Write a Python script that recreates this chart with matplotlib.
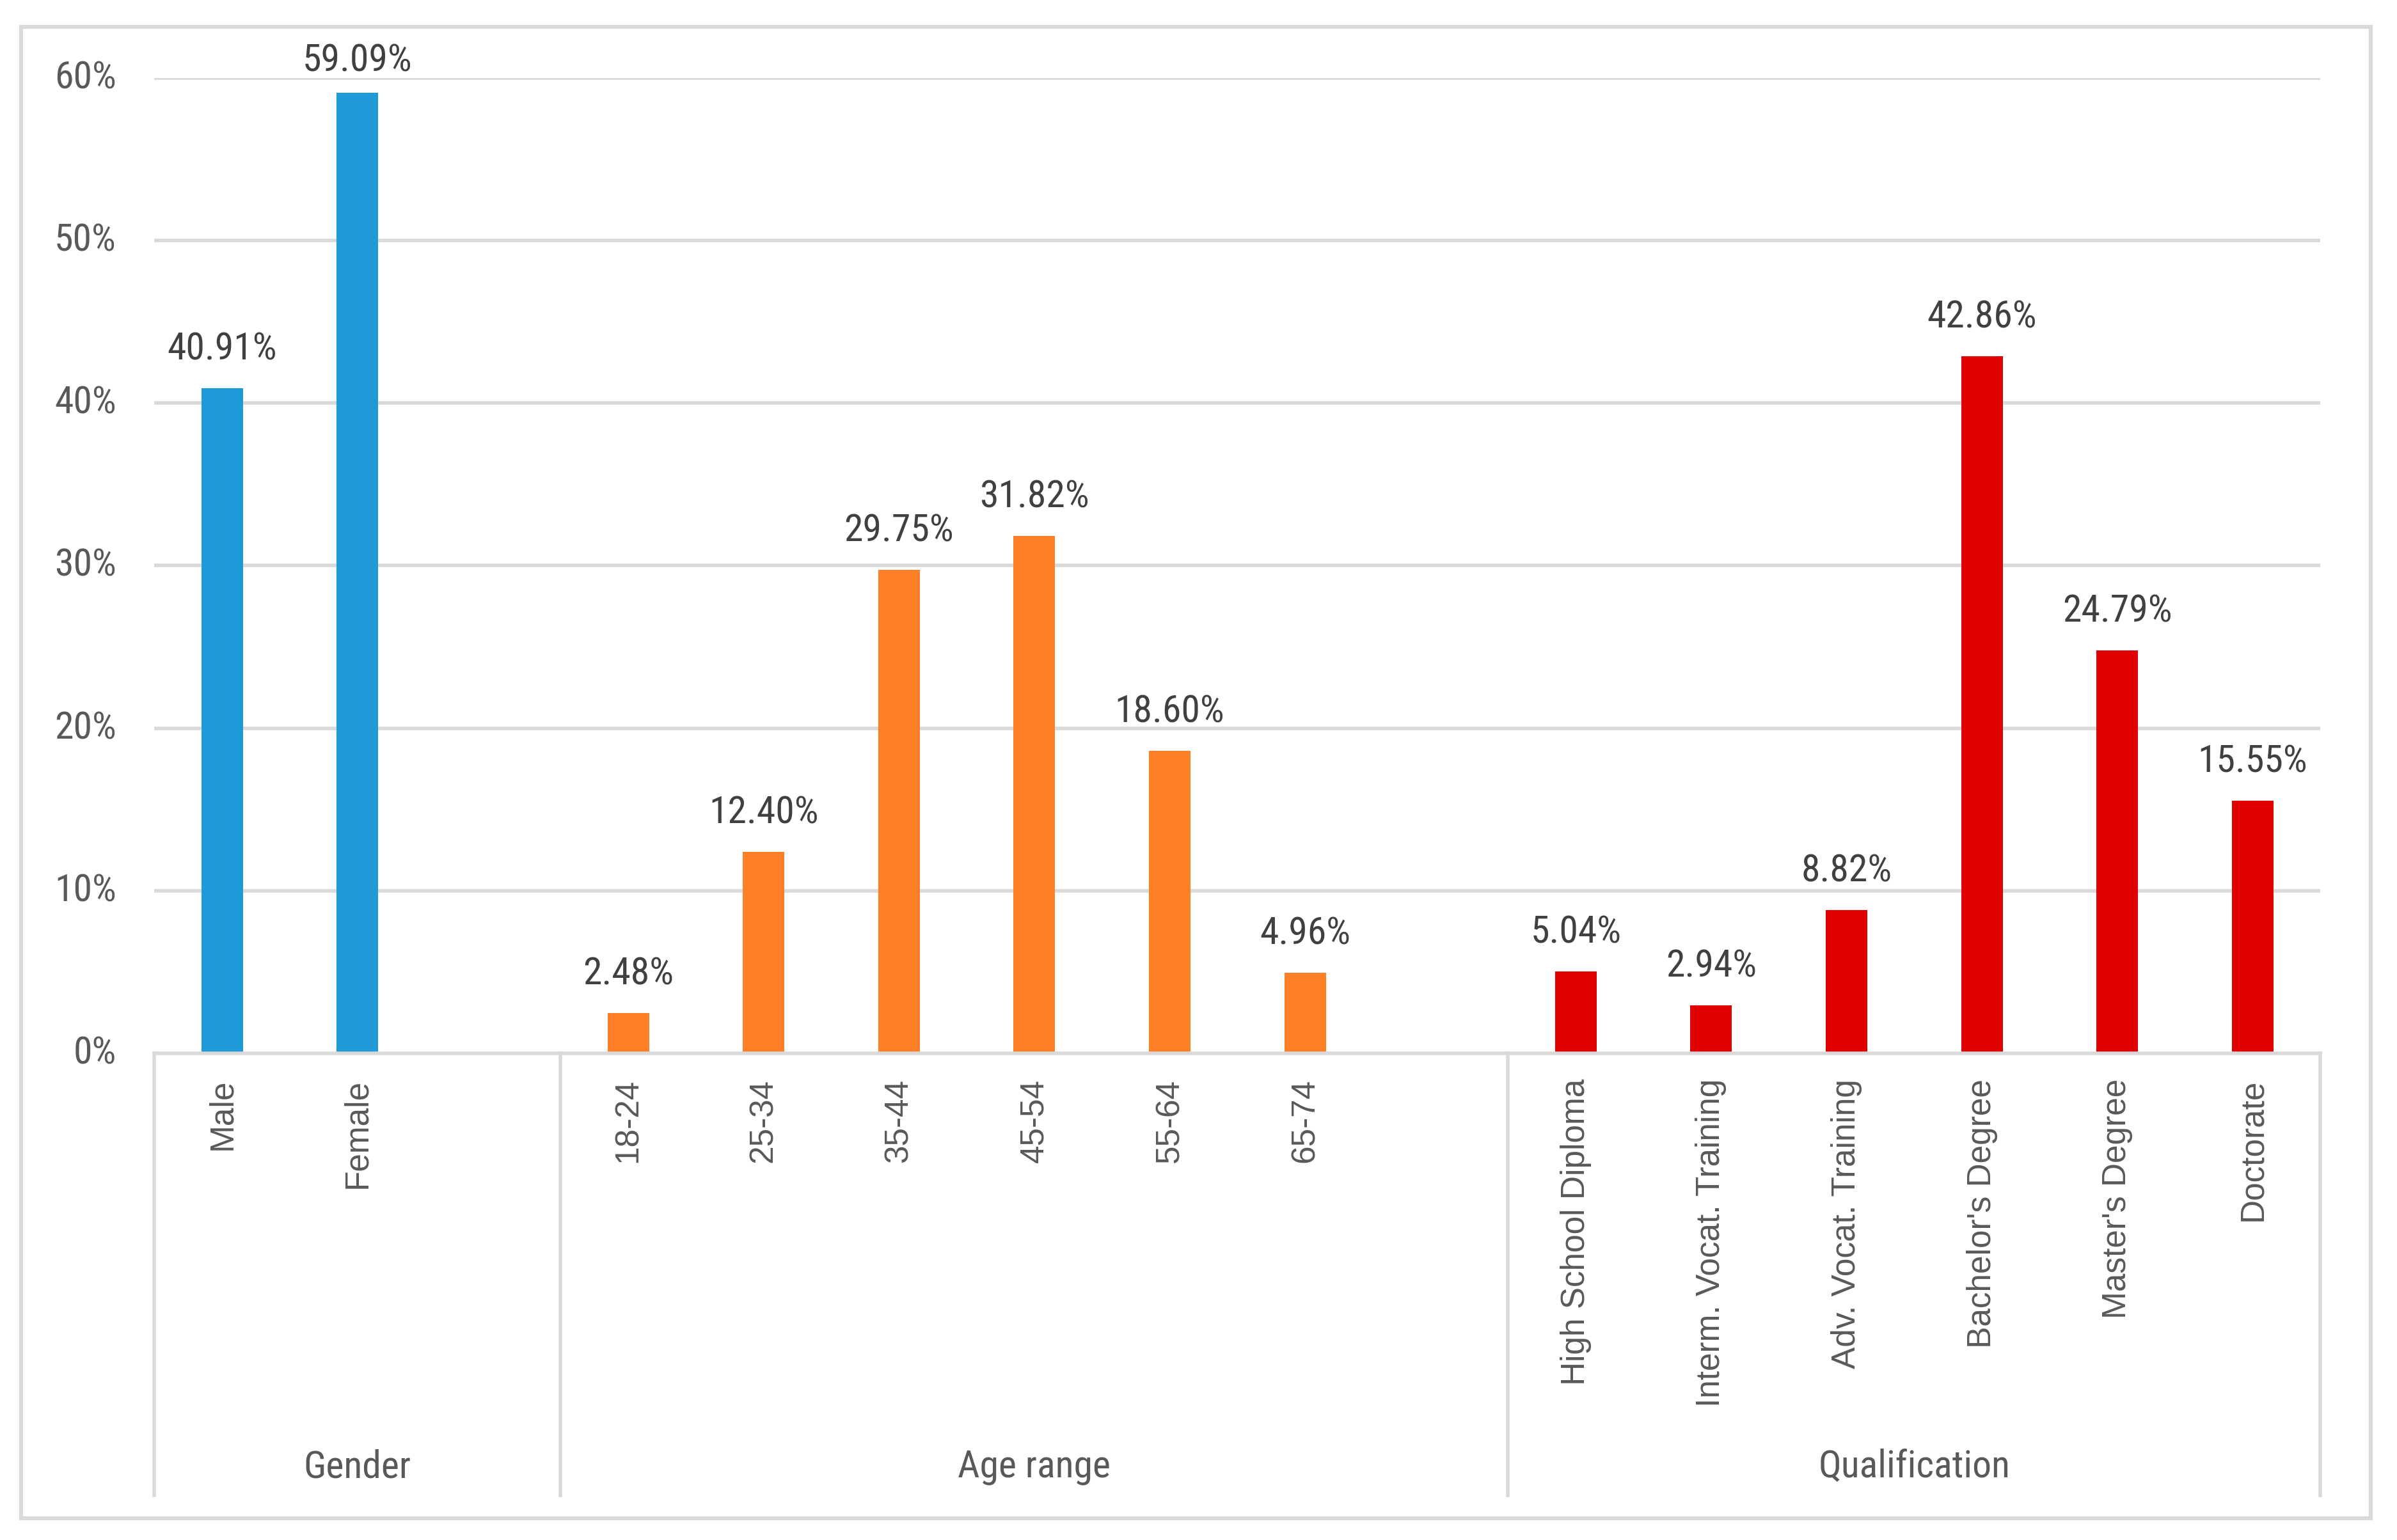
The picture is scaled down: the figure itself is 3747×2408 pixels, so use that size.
import matplotlib.pyplot as plt
from matplotlib.patches import Rectangle
import matplotlib.transforms as mtransforms
from matplotlib import font_manager

# data
gender_labels = ['Male', 'Female']
gender_values = [40.91, 59.09]
age_labels = ['18-24', '25-34', '35-44', '45-54', '55-64', '65-74']
age_values = [2.48, 12.40, 29.75, 31.82, 18.60, 4.96]
qual_labels = ['High School Diploma', 'Interm. Vocat. Training', 'Adv. Vocat. Training',
               "Bachelor's Degree", "Master's Degree", 'Doctorate']
qual_values = [5.04, 2.94, 8.82, 42.86, 24.79, 15.55]
group_names = ['Gender', 'Age range', 'Qualification']
y_ticks = [0, 10, 20, 30, 40, 50, 60]

colors = ['#1E9BD7', '#FF7F27', '#E00000']
regular = ['Liberation Sans', 'DejaVu Sans']
grey = '#D9D9D9'

# a condensed face if one is installed, else plain Arial-like at a smaller size
installed = {f.name for f in font_manager.fontManager.ttflist}
narrow = [n for n in ['Liberation Sans Narrow', 'Roboto Condensed'] if n in installed]
if narrow:
    narrow_size = 21.5
    narrow = narrow + regular
else:
    narrow = regular
    narrow_size = 19.5


def main():
    fig = plt.figure(figsize=(18.735, 12.04), dpi=200)
    ax = fig.add_axes([0.06445, 0.316, 0.90355, 0.6335])

    # each group followed by one blank slot (except last)
    groups = [(gender_labels, gender_values, 1), (age_labels, age_values, 1), (qual_labels, qual_values, 0)]
    trans = mtransforms.blended_transform_factory(ax.transData, ax.transAxes)
    pos = 0
    bounds = [-0.5]
    centers = []
    for (labels, values, gap), col in zip(groups, colors):
        xs = list(range(pos, pos + len(labels)))
        ax.bar(xs, values, width=0.307, color=col, zorder=3)
        for x, v in zip(xs, values):
            off = 16 if v < 55 else 12
            ax.annotate(f'{v:.2f}%', (x, v), xytext=(0, off), textcoords='offset points',
                        ha='center', va='baseline', fontsize=narrow_size, family=narrow, color='#404040')
        for x, lab in zip(xs, labels):
            ax.text(x, -0.0262, lab, transform=trans, rotation=90, ha='center', va='top',
                    fontsize=18.5, family=regular, color='#595959')
        pos += len(labels) + gap
        bounds.append(pos - 0.5)
        centers.append((bounds[-2] + bounds[-1]) / 2)

    ax.set_xlim(-0.5, pos - 0.5)
    ax.set_ylim(0, 60)

    for t in y_ticks[1:]:
        ax.axhline(t, color=grey, lw=2.0, zorder=1)
    ax.axhline(0, color=grey, lw=2.0, zorder=4, clip_on=False)

    for b in bounds:
        ax.plot([b, b], [0, -0.453], transform=trans, color=grey, lw=2.0, clip_on=False)
    for c, name in zip(centers, group_names):
        ax.text(c, -0.424, name, transform=trans, ha='center', va='center',
                fontsize=narrow_size, family=narrow, color='#595959')

    ytrans = mtransforms.blended_transform_factory(ax.transAxes, ax.transData)
    for t in y_ticks:
        ax.text(-0.0176, t, f'{t}%', transform=ytrans, ha='right', va='center',
                fontsize=narrow_size, family=narrow, color='#595959')

    ax.set_xticks([])
    ax.set_yticks([])
    for s in ax.spines.values():
        s.set_visible(False)

    fig.patches.append(Rectangle((0.0088, 0.0143), 0.9802, 0.9683, transform=fig.transFigure,
                                 fill=False, edgecolor=grey, lw=2.2))

    fig.savefig('out.png', dpi=200, facecolor='white')


if __name__ == "__main__":
    main()
